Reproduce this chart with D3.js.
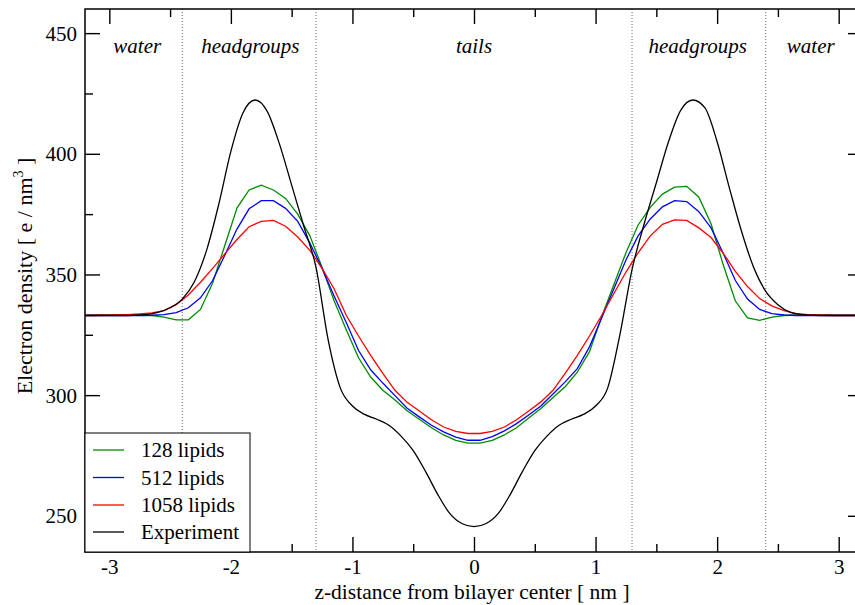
<!DOCTYPE html>
<html><head><meta charset="utf-8">
<script src="https://cdn.jsdelivr.net/npm/d3@7"></script>
<style>
body{margin:0;background:#fff}
svg{display:block}
svg text{font-family:"Liberation Serif","Times New Roman",Times,serif;fill:#000}
</style>
</head><body>
<svg id="chart" width="855" height="605"></svg>
<script>
// ---------- data ----------
const zExp = [-3.2,-3.1,-3.0,-2.9,-2.8,-2.7,-2.6,-2.5,-2.4,-2.3,-2.2,-2.1,-2.0,-1.9,-1.8,-1.7,-1.6,-1.5,-1.4,-1.3,-1.2,-1.1,-1.0,-0.9,-0.8,-0.7,-0.6,-0.5,-0.4,-0.3,-0.2,-0.1,0,
  0.1,0.2,0.3,0.4,0.5,0.6,0.7,0.8,0.9,1.0,1.1,1.2,1.3,1.4,1.5,1.6,1.7,1.8,1.9,2.0,2.1,2.2,2.3,2.4,2.5,2.6,2.7,2.8,2.9,3.0,3.1,3.2];
const densExp = [333,333,333,333,333.1,333.4,334.3,336.2,339.8,347,360,379,401,417,422.3,417.5,404,387,370,353,323,303,295.5,292,290,287.5,283,277,268.5,259,251,246.8,245.5,
  246.8,251,259,268.5,277,283,287.5,290,292,295.5,303,325,352,371,388,405,418,422.3,419,405,386,368,353,343,337.5,334.4,333.4,333.1,333,333,333,333];

const zSim = [-3.25,-3.15,-3.05,-2.95,-2.85,-2.75,-2.65,-2.55,-2.45,-2.35,-2.25,-2.15,-2.05,-1.95,-1.85,-1.75,-1.65,-1.55,-1.45,-1.35,-1.25,-1.15,-1.05,-0.95,-0.85,-0.75,-0.65,-0.55,-0.45,-0.35,-0.25,-0.15,-0.05,
  0.05,0.15,0.25,0.35,0.45,0.55,0.65,0.75,0.85,0.95,1.05,1.15,1.25,1.35,1.45,1.55,1.65,1.75,1.85,1.95,2.05,2.15,2.25,2.35,2.45,2.55,2.65,2.75,2.85,2.95,3.05,3.15,3.25];
const dens128 = [333.2,333.2,333.2,333.2,333.2,333.1,333.0,332.3,331.2,331.2,335.5,346.5,362,377.5,385,387,385,381.5,375,366,353,339,327,315.5,307.5,302,298,293.5,290,286.5,283.5,281.3,280.1,
  280.1,281.3,283.5,286.5,290.5,294.5,299,303.5,309.5,318,332.5,345.7,359,370.5,377.8,383.3,386.2,386.5,382,371,354,339,332,331,332.3,333,333.2,333.2,333.2,333.2,333.2,333.2,333.2];
const dens512 = [333.0,333.0,333.0,333.0,333.0,333.0,333.1,333.4,334.2,336.2,340.3,347.5,358,368.8,377.2,380.6,380.6,377.4,372,363,352.5,341,330,318.5,310.5,305,299.8,294.6,291,287.5,284.8,282.6,281.3,
  281.3,282.8,285.2,288.2,291.8,295.5,300.5,305.5,311,320,332,344,356,366,373,378,380.6,380.2,376,369.3,358.8,347.5,339.8,335.5,333.8,333.2,333.0,333.0,333.0,333.0,333.0,333.0,333.0];
const dens1058 = [333.0,333.0,333.1,333.2,333.4,333.7,334.1,335.0,337.5,341.5,346.8,352.5,358.5,364.5,369.8,372,372.4,370,365.5,360,352.5,344,333,324.5,316.5,309,302,297,293.4,289.8,286.8,285,284.1,
  284.1,285,286.8,289.8,293.4,297.2,302,309,316.5,324.5,333,342,351,359,366,370.8,372.6,372.4,369.3,365.3,358.8,351.3,345,340,337,335,333.8,333.4,333.2,333.0,333.0,333.0,333.0];

const seriesNames = ["128 lipids","512 lipids","1058 lipids","Experiment"];
const seriesColors = ["#008b00","#0000ff","#ff0000","#000000"];

const xMajorTicks = [-3,-2,-1,0,1,2,3];
const xTickLabels = ["-3","-2","-1","0","1","2","3"];
const xMinorTicks = [-2.5,-1.5,-0.5,0.5,1.5,2.5];
const yMajorTicks = [250,300,350,400,450];
const yTickLabels = ["250","300","350","400","450"];
const yMinorTicks = [275,325,375,425];

const regionBounds = [-2.4,-1.3,1.3,2.4];
const regionLabels = ["water","headgroups","tails","headgroups","water"];
const regionLabelZ = [-2.77,-1.84,0,1.84,2.77];

// ---------- layout ----------
const FONT = "'Liberation Serif', 'Times New Roman', Times, serif";
const W = 855, H = 605;
const L = 85, R = 863, T = 9, B = 552;
const x = d3.scaleLinear().domain([-3.2,3.2]).range([L,R]);
const y = d3.scaleLinear().domain([235,460]).range([B,T]);

const svg = d3.select("#chart");
svg.append("rect").attr("width",W).attr("height",H).attr("fill","#fff");
svg.append("clipPath").attr("id","clip").append("rect")
  .attr("x",L).attr("y",T).attr("width",R-L).attr("height",B-T);

// region boundaries (dotted)
svg.append("g").selectAll("line").data(regionBounds).join("line")
  .attr("x1",d=>x(d)).attr("x2",d=>x(d)).attr("y1",T).attr("y2",B)
  .attr("stroke","#666").attr("stroke-width",1).attr("stroke-dasharray","1,2");

// region labels
svg.append("g").selectAll("text").data(regionLabels).join("text")
  .attr("x",(d,i)=>x(regionLabelZ[i])).attr("y",53)
  .attr("text-anchor","middle").attr("font-style","italic").attr("font-size",21)
  .attr("font-family",FONT)
  .text(d=>d);

// curves
const plot = svg.append("g").attr("clip-path","url(#clip)");
const simLine = d3.line().x(d=>x(d[0])).y(d=>y(d[1])).curve(d3.curveLinear);
const expLine = d3.line().x(d=>x(d[0])).y(d=>y(d[1])).curve(d3.curveMonotoneX);
const simSeries = [dens128,dens512,dens1058];
simSeries.forEach((vals,i)=>{
  plot.append("path").datum(zSim.map((z,j)=>[z,vals[j]]))
    .attr("d",simLine).attr("fill","none").attr("stroke",seriesColors[i]).attr("stroke-width",1.3);
});
plot.append("path").datum(zExp.map((z,j)=>[z,densExp[j]]))
  .attr("d",expLine).attr("fill","none").attr("stroke",seriesColors[3]).attr("stroke-width",1.3);

// axes (inward ticks on all four sides)
function styleAxis(g){ g.attr("font-family",FONT); g.select(".domain").remove(); g.selectAll(".tick line").attr("stroke","#000").attr("stroke-width",1.4); }
const fmtX = d=>xTickLabels[xMajorTicks.indexOf(d)];
const fmtY = d=>yTickLabels[yMajorTicks.indexOf(d)];

const gxb = svg.append("g").attr("transform",`translate(0,${B})`)
  .call(d3.axisBottom(x).tickValues(xMajorTicks).tickSize(-15).tickFormat(fmtX));
styleAxis(gxb);
gxb.selectAll(".tick text").attr("y",22).attr("dy",0).attr("font-size",21).attr("font-family",FONT);
svg.append("g").attr("transform",`translate(0,${B})`)
  .call(d3.axisBottom(x).tickValues(xMinorTicks).tickSize(-8).tickFormat("")).call(styleAxis);
svg.append("g").attr("transform",`translate(0,${T})`)
  .call(d3.axisTop(x).tickValues(xMajorTicks).tickSize(-15).tickFormat("")).call(styleAxis);
svg.append("g").attr("transform",`translate(0,${T})`)
  .call(d3.axisTop(x).tickValues(xMinorTicks).tickSize(-8).tickFormat("")).call(styleAxis);

const gyl = svg.append("g").attr("transform",`translate(${L},0)`)
  .call(d3.axisLeft(y).tickValues(yMajorTicks).tickSize(-15).tickPadding(8).tickFormat(fmtY));
styleAxis(gyl);
gyl.selectAll(".tick text").attr("font-size",21).attr("font-family",FONT).attr("dy","0.33em");
svg.append("g").attr("transform",`translate(${L},0)`)
  .call(d3.axisLeft(y).tickValues(yMinorTicks).tickSize(-8).tickFormat("")).call(styleAxis);
svg.append("g").attr("transform",`translate(${R},0)`)
  .call(d3.axisRight(y).tickValues(yMajorTicks).tickSize(-15).tickFormat("")).call(styleAxis);
svg.append("g").attr("transform",`translate(${R},0)`)
  .call(d3.axisRight(y).tickValues(yMinorTicks).tickSize(-8).tickFormat("")).call(styleAxis);

// frame
svg.append("rect").attr("x",L).attr("y",T).attr("width",R-L).attr("height",B-T)
  .attr("fill","none").attr("stroke","#000").attr("stroke-width",1.5);

// axis titles
svg.append("text").attr("x",472).attr("y",599).attr("text-anchor","middle").attr("font-size",21.5)
  .attr("font-family",FONT)
  .text("z-distance from bilayer center [ nm ]");
const yt = svg.append("text").attr("transform","translate(32,276) rotate(-90)")
  .attr("text-anchor","middle").attr("font-size",22).attr("font-family",FONT);
yt.append("tspan").text("Electron density [ e / nm");
yt.append("tspan").attr("dy",-9).attr("font-size",14).text("3");
yt.append("tspan").attr("dy",9).text(" ]");

// legend
const lg = svg.append("g");
lg.append("rect").attr("x",L).attr("y",433).attr("width",165).attr("height",B-433)
  .attr("fill","#fff").attr("stroke","#000").attr("stroke-width",1);
const rowY = [450,477.5,505,532];
seriesNames.forEach((name,i)=>{
  lg.append("line").attr("x1",93).attr("x2",124).attr("y1",rowY[i]).attr("y2",rowY[i])
    .attr("stroke",seriesColors[i]).attr("stroke-width",1.3);
  lg.append("text").attr("x",141).attr("y",rowY[i]).attr("dy","0.35em").attr("font-size",21)
    .attr("font-family",FONT).text(name);
});
</script>
</body></html>
